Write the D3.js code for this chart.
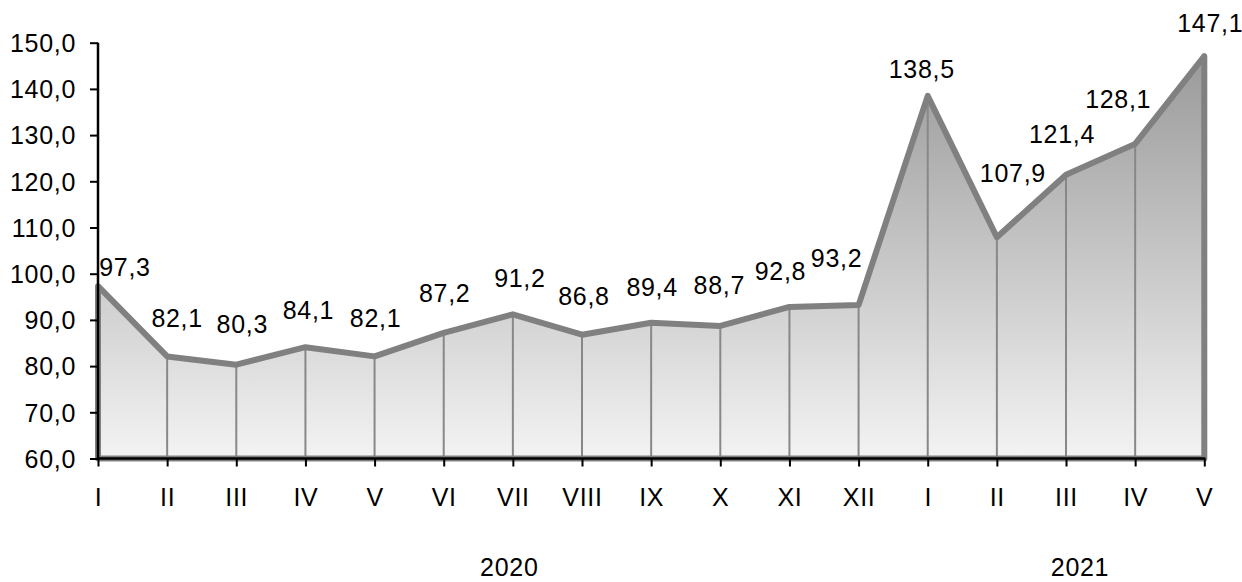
<!DOCTYPE html>
<html><head><meta charset="utf-8">
<script src="https://cdn.jsdelivr.net/npm/d3@7"></script>
<style>
body{margin:0;background:#fff;}
text{font-family:"Liberation Sans",Arial,sans-serif;fill:#000;}
</style></head>
<body>
<svg id="c" width="1242" height="582"></svg>
<script>
const months = ["I","II","III","IV","V","VI","VII","VIII","IX","X","XI","XII","I","II","III","IV","V"];
const values = [97.3,82.1,80.3,84.1,82.1,87.2,91.2,86.8,89.4,88.7,92.8,93.2,138.5,107.9,121.4,128.1,147.1];
const yTicks = [60,70,80,90,100,110,120,130,140,150];
const years = ["2020","2021"];

const labelNudge = [[27,-10],[10,-29],[6,-32],[3,-28],[1,-29],[1,-31],[7,-27],[2,-30],[1,-27],[-1,-32],[-9,-27],[-22,-38],[-6,-18],[16,-55],[-4,-32],[-17,-36],[6,-24]];

const svg = d3.select("#c");
const fmt = v => d3.format(".1f")(v).replace(".", ",");
const FS = "25px", LS = "0.7px";

const x = d3.scaleLinear().domain([0, months.length-1]).range([98, 1204.3]);
const y = d3.scaleLinear().domain([60,150]).range([458.5, 42.7]);

const defs = svg.append("defs");
const grad = defs.append("linearGradient").attr("id","g").attr("gradientUnits","userSpaceOnUse")
  .attr("x1",0).attr("x2",0).attr("y1",y(150)).attr("y2",y(60));
grad.append("stop").attr("offset","0").attr("stop-color","#979797");
grad.append("stop").attr("offset","1").attr("stop-color","#f3f3f3");

const area = d3.area().x((d,i)=>x(i)).y0(y(60)).y1(d=>y(d));
svg.append("path").datum(values).attr("d",area).attr("fill","url(#g)");

svg.append("g").selectAll("line").data(values).join("line")
  .attr("x1",(d,i)=>x(i)).attr("x2",(d,i)=>x(i))
  .attr("y1",d=>y(d)).attr("y2",y(60))
  .attr("stroke","#888").attr("stroke-width",2);

svg.append("path").attr("d",area(values)+"Z")
  .attr("fill","none").attr("stroke","#808080").attr("stroke-width",6)
  .attr("stroke-linejoin","round");

// axes
const yAxis = d3.axisLeft(y).tickValues(yTicks).tickFormat(fmt).tickSize(8).tickPadding(14);
const gy = svg.append("g").attr("transform","translate(98,0)").call(yAxis);
gy.select(".domain").attr("stroke","#000").attr("stroke-width",2.5).attr("d",`M0,${y(60)}V${y(150)}`);
gy.selectAll(".tick line").attr("stroke","#000").attr("stroke-width",2);
gy.selectAll(".tick text").style("font-size",FS).style("letter-spacing",LS).attr("font-family",null).attr("fill","#000").attr("dy","0.35em");

const xAxis = d3.axisBottom(x).tickValues(d3.range(months.length)).tickFormat(i=>months[i]).tickSize(8).tickPadding(0);
const gx = svg.append("g").attr("transform",`translate(0,${y(60)})`).call(xAxis);
gx.select(".domain").attr("stroke","#000").attr("stroke-width",2.5).attr("d",`M${x(0)-1},0H${x(months.length-1)+1}`);
gx.selectAll(".tick line").attr("stroke","#000").attr("stroke-width",2);
gx.selectAll(".tick text").style("font-size",FS).style("letter-spacing",LS).attr("font-family",null).attr("fill","#000")
  .attr("y",47).attr("dy",0);

// value labels
svg.append("g").selectAll("text").data(values).join("text")
  .attr("x",(d,i)=>x(i)+labelNudge[i][0]).attr("y",(d,i)=>y(d)+labelNudge[i][1])
  .attr("text-anchor","middle").style("font-size",FS).style("letter-spacing",LS).text(d=>fmt(d));

// year labels
const yearPos = [(x(0)+x(11))/2+31, (x(12)+x(16))/2+14];
svg.append("g").selectAll("text").data(years).join("text")
  .attr("x",(d,i)=>yearPos[i]).attr("y",576).attr("text-anchor","middle")
  .style("font-size",FS).style("letter-spacing",LS).text(d=>d);
</script>
</body></html>
